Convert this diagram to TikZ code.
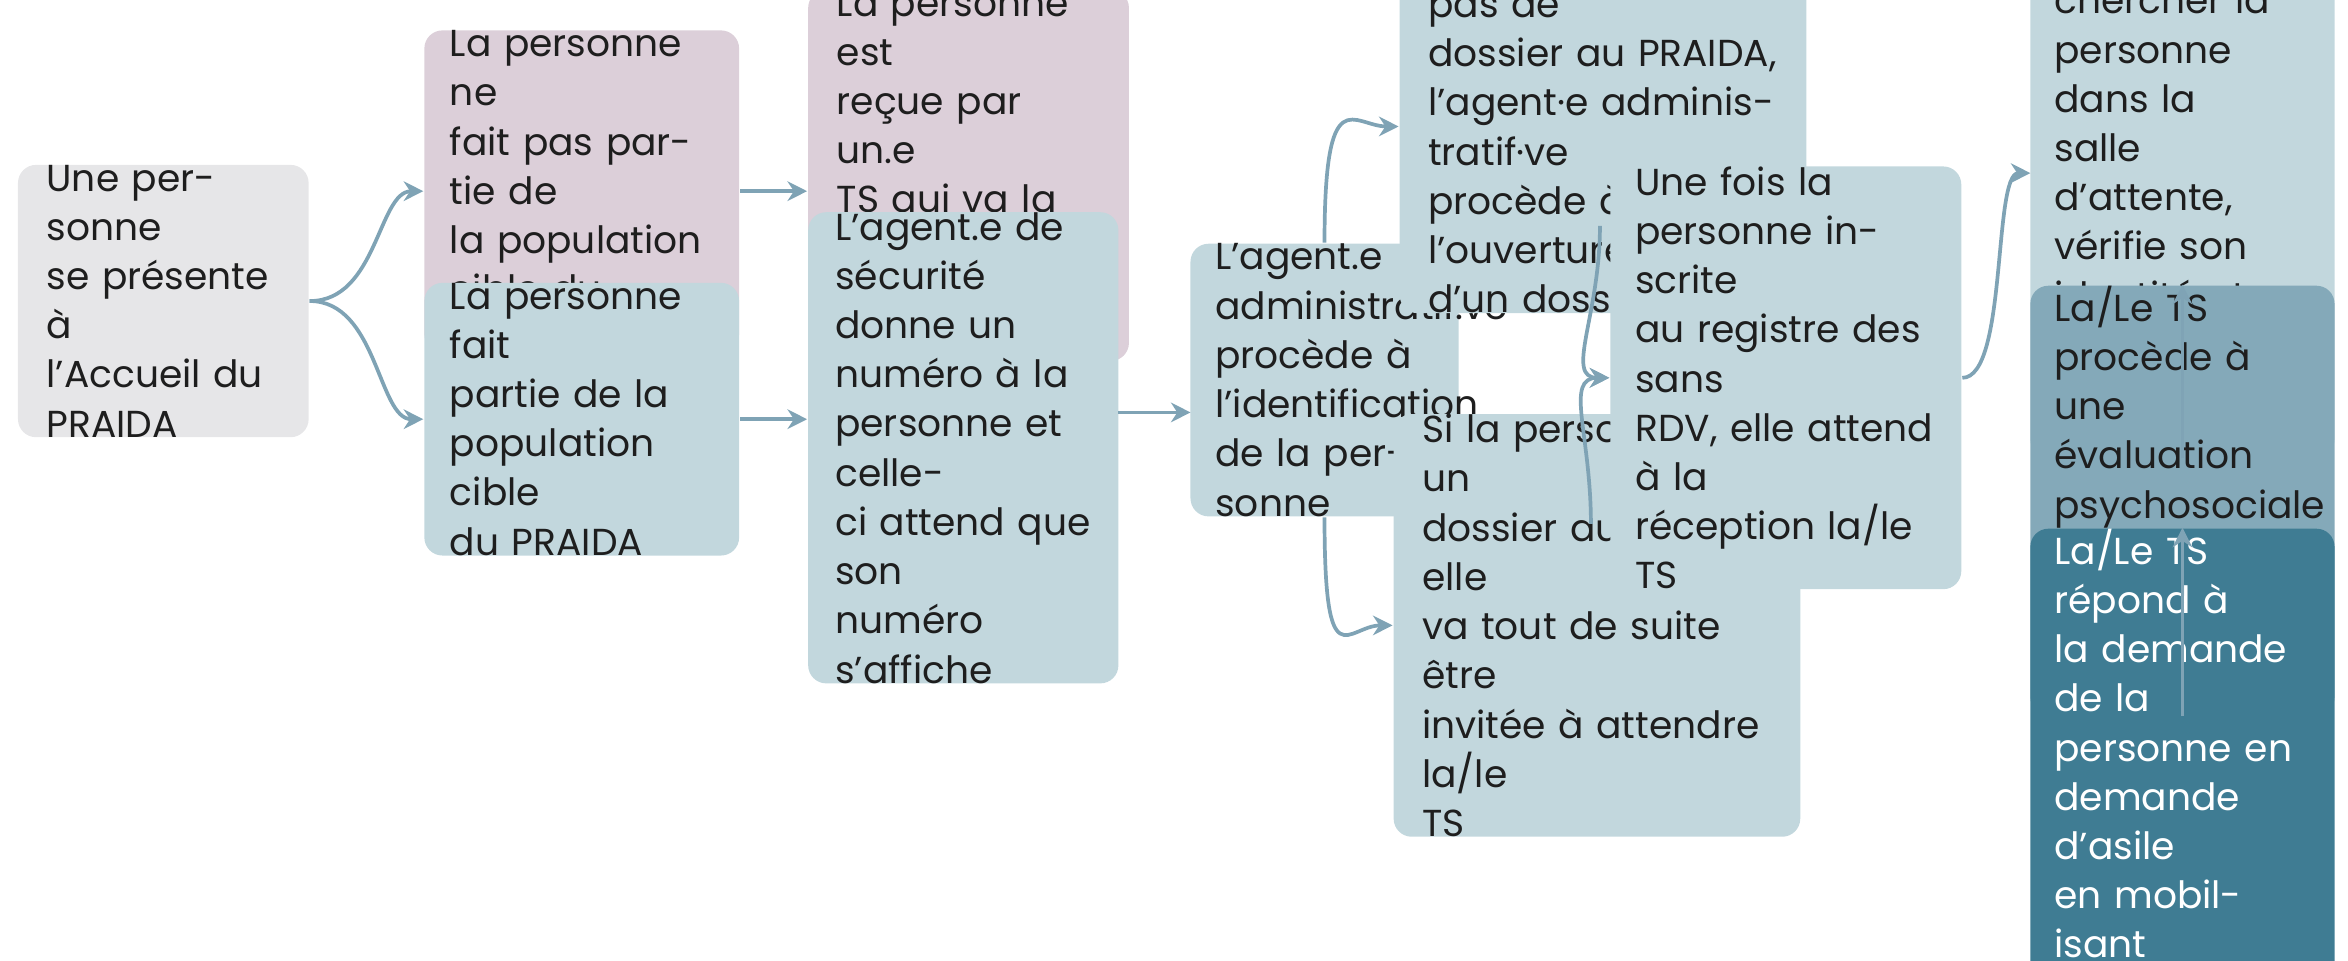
\documentclass[tikz,border=0pt]{standalone}
\usepackage{fontspec}
\setmainfont{Poppins}
\usetikzlibrary{arrows.meta}
\definecolor{greybox}{HTML}{E6E6E8}
\definecolor{pinkbox}{HTML}{DCCFD9}
\definecolor{bluebox}{HTML}{C2D7DD}
\definecolor{midblue}{HTML}{84A9B9}
\definecolor{darkblue}{HTML}{3F7C93}
\definecolor{arrowc}{HTML}{7FA3B5}
\definecolor{txt}{HTML}{1E1E1E}
\begin{document}
\begin{tikzpicture}[x=0.01cm,y=-0.01cm,
    box/.style={rounded corners=0.12cm, align=left, inner sep=0pt, text=txt,
      font=\fontsize{7.1}{9.3}\selectfont},
    flow/.style={draw=arrowc, line width=0.7pt, -{Stealth[length=1.3mm,width=1.3mm]}}]
\useasboundingbox (0,0) rectangle (1560,638);
%% Boxes
  \node[box, fill=greybox, minimum width=1.93cm, minimum height=1.48cm, text width=1.55cm] (accueil) at (108.5,200) {Une personne\\se présente à\\l'Accueil du\\PRAIDA};
  \node[box, fill=pinkbox, minimum width=2.09cm, minimum height=1.10cm, text width=1.75cm] (horscible) at (386.5,127) {La personne ne\\fait pas partie de\\la population\\cible du PRAIDA};
  \node[box, fill=pinkbox, minimum width=2.13cm, minimum height=1.33cm, text width=1.75cm] (autre) at (643.5,116.5) {La personne est\\reçue par un.e\\TS qui va la\\diriger vers un\\autre service};
  \node[box, fill=bluebox, minimum width=2.09cm, minimum height=1.05cm, text width=1.75cm] (cible) at (386.5,278.5) {La personne fait\\partie de la\\population cible\\du PRAIDA};
  \node[box, fill=bluebox, minimum width=2.06cm, minimum height=1.59cm, text width=1.70cm] (securite) at (640,297.5) {L’agent.e de\\sécurité donne un\\numéro à la\\personne et celle-\\ci attend que son\\numéro s’affiche};
  \node[box, fill=bluebox, minimum width=1.78cm, minimum height=1.31cm, text width=1.45cm] (ident) at (880,252.5) {L'agent.e\\administratif.ve\\procède à\\l’identification\\de la personne};
  \node[box, fill=bluebox, minimum width=2.70cm, minimum height=1.32cm, text width=2.32cm] (sans) at (1065,84) {Si la personne n’a pas de\\dossier au PRAIDA,\\l’agent·e administratif·ve\\procède à l’ouverture\\d’un dossier};
  \node[box, fill=bluebox, minimum width=2.70cm, minimum height=1.35cm, text width=2.32cm] (avec) at (1061,415.5) {Si la personne a un\\dossier au PRAIDA elle\\va tout de suite être\\invitée à attendre la/le\\TS};
  \node[box, fill=bluebox, minimum width=2.33cm, minimum height=1.38cm, text width=2.00cm] (registre) at (1186.5,251) {Une fois la\\personne inscrite\\au registre des sans\\RDV, elle attend à la\\réception la/le TS};
  \node[box, fill=bluebox, minimum width=2.02cm, minimum height=2.10cm, text width=1.70cm] (salle) at (1450,112) {La/Le TS\\disponible va\\chercher la\\personne dans la\\salle d’attente,\\vérifie son\\identité et l'invite\\dans son bureau};
  \node[box, fill=midblue, minimum width=2.02cm, minimum height=1.71cm, text width=1.70cm] (eval) at (1450,332.5) {La/Le TS\\procède à une\\évaluation\\psychosociale\\de la personne\\en demande\\d'asile};
  \node[box, fill=darkblue, text=white, minimum width=2.02cm, minimum height=1.86cm, text width=1.70cm] (reponse) at (1450,543) {La/Le TS répond à\\la demande de la\\personne en\\demande d'asile\\en mobilisant\\différents outils\\et ressources};
  \coordinate (secout) at (743,274);
  \coordinate (identin) at (791,274);
  \coordinate (sansout) at (1063,150);
  \coordinate (avecout) at (1057,348);
  \coordinate (salleout) at (1349,115);
%% Connectors
  \draw[flow] (accueil.east) .. controls +(45,0) and +(-30,0) .. (horscible.west);
  \draw[flow] (accueil.east) .. controls +(45,0) and +(-30,0) .. (cible.west);
  \draw[flow] (horscible.east) -- (horscible.east -| autre.west);
  \draw[flow] (cible.east) -- (cible.east -| securite.west);
  \draw[flow] (secout) -- (identin);
  \draw[flow] (ident.north) .. controls +(0,-110) and +(-30,0) .. (sans.west);
  \draw[flow] (ident.south) .. controls +(0,110) and +(-30,0) .. (avec.west);
  \draw[flow] (sansout) .. controls +(0,60) and +(-30,0) .. (registre.west);
  \draw[flow] (avecout) .. controls +(0,-60) and +(-30,0) .. (registre.west);
  \draw[flow] (registre.east) .. controls +(30,0) and +(-25,0) .. (salleout);
  \draw[flow] (salle.south) -- (eval.north);
  \draw[flow] (eval.south) -- (reponse.north);
\end{tikzpicture}
\end{document}
